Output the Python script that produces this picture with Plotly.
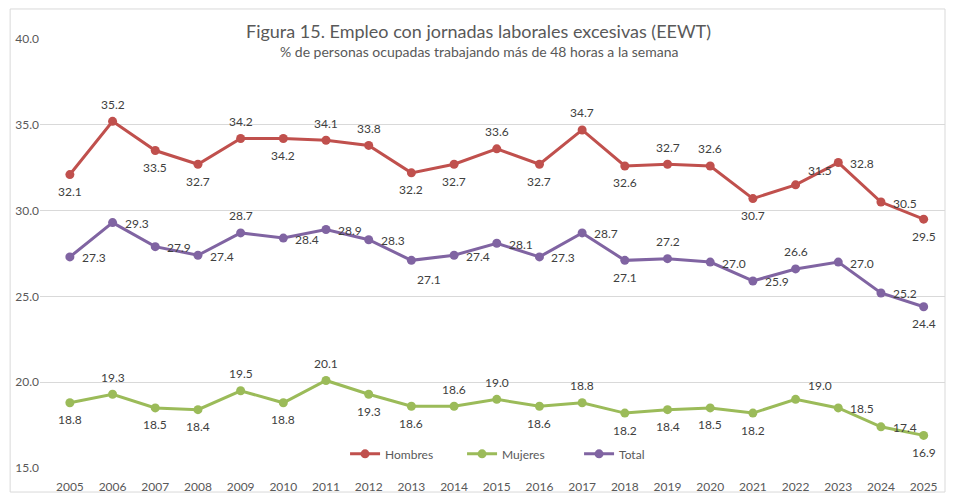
import plotly.graph_objects as go

YEARS = [str(y) for y in range(2005, 2026)]
HOMBRES = [32.1, 35.2, 33.5, 32.7, 34.2, 34.2, 34.1, 33.8, 32.2, 32.7, 33.6,
           32.7, 34.7, 32.6, 32.7, 32.6, 30.7, 31.5, 32.8, 30.5, 29.5]
MUJERES = [18.8, 19.3, 18.5, 18.4, 19.5, 18.8, 20.1, 19.3, 18.6, 18.6, 19.0,
           18.6, 18.8, 18.2, 18.4, 18.5, 18.2, 19.0, 18.5, 17.4, 16.9]
TOTAL = [27.3, 29.3, 27.9, 27.4, 28.7, 28.4, 28.9, 28.3, 27.1, 27.4, 28.1,
         27.3, 28.7, 27.1, 27.2, 27.0, 25.9, 26.6, 27.0, 25.2, 24.4]

# where each data label sits relative to its point (b=below, t=above, r=right ...)
POS_H = ["b", "t", "b", "b", "t", "b", "t", "t", "b", "b", "t",
         "b", "t", "b", "t", "t", "b", "tr", "r", "r", "b"]
POS_M = ["b", "t", "b", "b", "t", "b", "t", "b", "b", "t", "t",
         "b", "t", "b", "b", "b", "b", "tr", "r", "r", "b"]
POS_T = ["r", "r", "r", "r", "t", "r", "r", "r", "br", "r", "r",
         "r", "r", "b", "t", "r", "r", "t", "r", "r", "b"]

SHIFT = {"b": (0, -17), "t": (0, 17), "r": (24, -1), "tr": (24, 14), "br": (18, -19)}

COLORS = {"Hombres": "#C0504D", "Mujeres": "#9BBB59", "Total": "#8064A2"}
GREY = "#595959"
FONT = "Lato, 'Open Sans', sans-serif"

fig = go.Figure()
annotations = []
for name, vals, pos in [("Hombres", HOMBRES, POS_H), ("Mujeres", MUJERES, POS_M), ("Total", TOTAL, POS_T)]:
    fig.add_trace(go.Scatter(x=YEARS, y=vals, mode="lines+markers", name=name,
        line=dict(color=COLORS[name], width=3), marker=dict(size=9, color=COLORS[name])))
    for i, (v, p) in enumerate(zip(vals, pos)):
        dx, dy = SHIFT[p]
        annotations.append(dict(x=i, y=v, xref="x", yref="y", text=f"{v:.1f}", showarrow=False,
            xshift=dx, yshift=dy, font=dict(size=12, color="#404040", family=FONT)))

annotations += [
    dict(text="Figura 15. Empleo con jornadas laborales excesivas (EEWT)", xref="paper", yref="paper",
         x=0.485, y=1.0186, yanchor="middle", showarrow=False, font=dict(size=18, color=GREY, family=FONT)),
    dict(text="% de personas ocupadas trabajando más de 48 horas a la semana", xref="paper", yref="paper",
         x=0.485, y=0.970, yanchor="middle", showarrow=False, font=dict(size=14, color=GREY, family=FONT)),
]

fig.update_layout(
    width=938, height=486, margin=dict(l=32, r=1, t=31, b=26),
    paper_bgcolor="white", plot_bgcolor="white",
    font=dict(family=FONT, color=GREY, size=12),
    annotations=annotations,
    showlegend=True,
    legend=dict(orientation="h", x=0.531, xanchor="center", y=0.033, yanchor="middle",
                bgcolor="rgba(0,0,0,0)", entrywidth=72, font=dict(size=12, color=GREY)),
    xaxis=dict(type="category", range=[-0.7, 20.5], showgrid=False, zeroline=False, automargin=False,
               showline=False, ticks="outside", ticklen=8, tickcolor="rgba(0,0,0,0)"),
    yaxis=dict(range=[15, 40], dtick=5, tickformat=".1f", showgrid=True, gridcolor="#D9D9D9",
               zeroline=False, showline=False, automargin=False, ticks=""),
    shapes=[dict(type="rect", xref="paper", yref="paper", x0=-0.033, x1=1.0, y0=-0.056, y1=1.07,
                 line=dict(color="#D9D9D9", width=1), layer="below")],
)

fig.write_html("out.html")
